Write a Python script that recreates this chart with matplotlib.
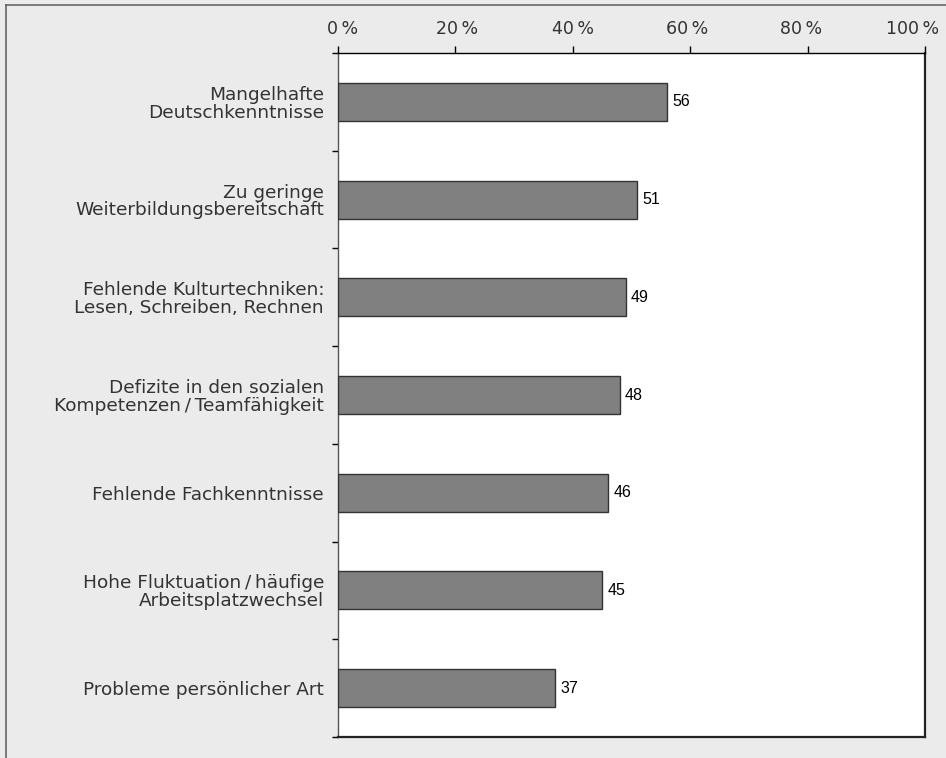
import matplotlib
matplotlib.use("Agg")
import matplotlib.pyplot as plt
from matplotlib.lines import Line2D
from matplotlib.ticker import FixedLocator
from matplotlib.transforms import ScaledTranslation

categories = [
    "Mangelhafte\nDeutschkenntnisse",
    "Zu geringe\nWeiterbildungsbereitschaft",
    "Fehlende Kulturtechniken:\nLesen, Schreiben, Rechnen",
    "Defizite in den sozialen\nKompetenzen\u2009/\u2009Teamfähigkeit",
    "Fehlende Fachkenntnisse",
    "Hohe Fluktuation\u2009/\u2009häufige\nArbeitsplatzwechsel",
    "Probleme persönlicher Art",
]
values = [56, 51, 49, 48, 46, 45, 37]
xticks = [0, 20, 40, 60, 80, 100]
xticklabels = ["0\u2009%", "20\u2009%", "40\u2009%", "60\u2009%", "80\u2009%", "100\u2009%"]

W, H = 946, 758
fig = plt.figure(figsize=(W / 100, H / 100), dpi=100, facecolor="#ebebeb")
ax = fig.add_axes([338 / W, 1 - 737 / H, 587 / W, 684 / H])
ax.set_facecolor("white")

n = len(categories)
ypos = list(range(n))
ax.barh(ypos, values, height=0.39, color="#808080", edgecolor="#333333", linewidth=1.0, zorder=3)
for y, v in zip(ypos, values):
    ax.text(v + 0.9, y, str(v), va="center", ha="left", fontsize=11.5,
            family="Liberation Sans", color="black")

ax.set_xlim(0, 100)
ax.set_ylim(n - 0.5, -0.5)

ax.xaxis.tick_top()
ax.set_xticks(xticks)
ax.set_xticklabels(xticklabels, fontsize=12.5, color="#333333", family="DejaVu Sans")
ax.tick_params(axis="x", which="major", direction="out", length=5, width=1, color="black", pad=6)
# shift outermost labels slightly inward as in the reference
shifts = {0: 5, 1: 2, 2: 0, 3: -3, 4: -7, 5: -12}
for i, lab in enumerate(ax.get_xticklabels()):
    lab.set_transform(lab.get_transform() + ScaledTranslation(shifts[i] / 100, 0, fig.dpi_scale_trans))

ax.set_yticks(ypos)
ax.set_yticklabels(categories, fontsize=13.3, color="#333333", family="DejaVu Sans", linespacing=0.98)
ax.tick_params(axis="y", which="major", length=0, pad=10)
ax.yaxis.set_minor_locator(FixedLocator([i - 0.5 for i in range(n + 1)]))
ax.tick_params(axis="y", which="minor", direction="out", length=4.3, width=1, color="black")

ax.spines["top"].set_color("black")
ax.spines["top"].set_linewidth(1.0)
ax.spines["left"].set_color("#555555")
ax.spines["left"].set_linewidth(1.0)
ax.spines["right"].set_color("#222222")
ax.spines["right"].set_linewidth(1.6)
ax.spines["bottom"].set_color("#222222")
ax.spines["bottom"].set_linewidth(1.6)

# outer frame lines (top and left visible)
fig.add_artist(Line2D([6 / W, 1.0], [1 - 5 / H, 1 - 5 / H], transform=fig.transFigure,
                      color="#666666", linewidth=1.2))
fig.add_artist(Line2D([6 / W, 6 / W], [0.0, 1 - 5 / H], transform=fig.transFigure,
                      color="#666666", linewidth=1.2))

fig.savefig("out.png", dpi=100, facecolor=fig.get_facecolor())
